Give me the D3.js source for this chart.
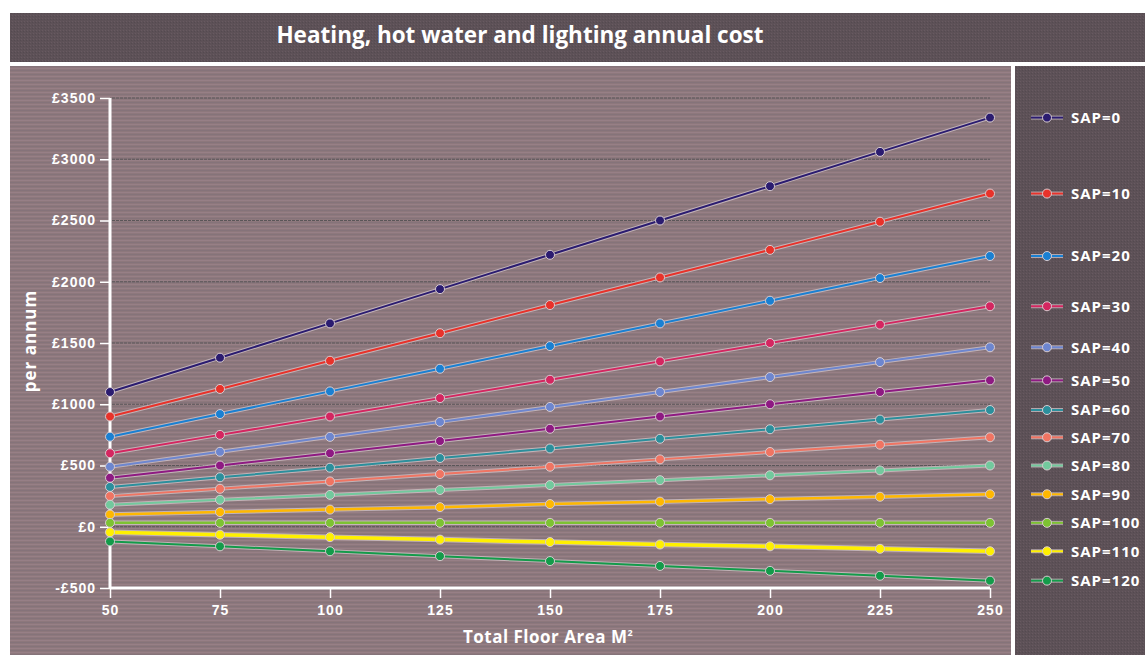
<!DOCTYPE html>
<meta charset="utf-8">
<style>
body { margin: 0; background: #fff; }
svg { display: block; font-family: "Open Sans", "Lato", sans-serif; }
.tick text { fill: #fff; font-weight: bold; font-size: 14px; letter-spacing: 1px; }
.domain { stroke: #fff; stroke-width: 3px; }
.tick line { stroke: #fff; stroke-width: 1.5px; }
</style>
<body>
<script src="https://d3js.org/d3.v7.min.js"></script>
<script>
// floor area (m2) and annual cost per SAP rating
var areas = [50, 75, 100, 125, 150, 175, 200, 225, 250];
var sapLabels = ["SAP=0", "SAP=10", "SAP=20", "SAP=30", "SAP=40", "SAP=50", "SAP=60",
                 "SAP=70", "SAP=80", "SAP=90", "SAP=100", "SAP=110", "SAP=120"];
var sap0   = [1100, 1380, 1660, 1940, 2220, 2500, 2780, 3060, 3340];
var sap10  = [900, 1125, 1355, 1580, 1810, 2035, 2260, 2490, 2720];
var sap20  = [735, 920, 1105, 1290, 1475, 1660, 1845, 2030, 2210];
var sap30  = [600, 750, 900, 1050, 1200, 1350, 1500, 1650, 1800];
var sap40  = [490, 612, 734, 856, 978, 1100, 1222, 1344, 1465];
var sap50  = [400, 500, 600, 700, 800, 900, 1000, 1100, 1195];
var sap60  = [325, 404, 482, 561, 639, 718, 796, 875, 953];
var sap70  = [250, 310, 370, 430, 490, 550, 610, 670, 730];
var sap80  = [180, 220, 260, 300, 340, 380, 420, 460, 500];
var sap90  = [100, 120, 140, 160, 185, 205, 225, 245, 265];
var sap100 = [32, 32, 32, 32, 32, 32, 32, 32, 32];
var sap110 = [-45, -65, -85, -105, -125, -145, -160, -180, -200];
var sap120 = [-120, -160, -200, -240, -280, -320, -360, -400, -440];
var yTicks = [-500, 0, 500, 1000, 1500, 2000, 2500, 3000, 3500];

var seriesValues = [sap0, sap10, sap20, sap30, sap40, sap50, sap60, sap70, sap80, sap90, sap100, sap110, sap120];
var colors = ["#2b1c70", "#e8322a", "#1a80d2", "#d42660", "#6d86cf", "#8e1a82", "#2b8f9c",
              "#f07462", "#72c99d", "#ffb800", "#7dc232", "#fff000", "#139b4a"];
var widths = [2, 2, 2, 2, 2, 2, 2, 2, 2, 2.5, 2.5, 3.5, 2];

var W = 1145, H = 655;
var svg = d3.select("body").append("svg").attr("width", W).attr("height", H);

// background textures
var defs = svg.append("defs");
var p1 = defs.append("pattern").attr("id", "plotbg").attr("width", 4).attr("height", 4)
  .attr("patternUnits", "userSpaceOnUse");
p1.append("rect").attr("width", 4).attr("height", 4).attr("fill", "#8d787c");
p1.append("rect").attr("width", 4).attr("height", 1).attr("fill", "#977f86");
p1.append("rect").attr("y", 2).attr("width", 4).attr("height", 1).attr("fill", "#85737a");
var p2 = defs.append("pattern").attr("id", "darkbg").attr("width", 3).attr("height", 3)
  .attr("patternUnits", "userSpaceOnUse");
p2.append("rect").attr("width", 3).attr("height", 3).attr("fill", "#5d5157");
p2.append("rect").attr("width", 1).attr("height", 1).attr("fill", "#685a61");
p2.append("rect").attr("x", 2).attr("y", 1).attr("width", 1).attr("height", 1).attr("fill", "#544a50");

svg.append("rect").attr("x", 10).attr("y", 13).attr("width", W - 10).attr("height", 49).attr("fill", "url(#darkbg)");
svg.append("rect").attr("x", 10).attr("y", 66).attr("width", 1001).attr("height", H - 66).attr("fill", "url(#plotbg)");
svg.append("rect").attr("x", 1015).attr("y", 66).attr("width", W - 1015).attr("height", H - 66).attr("fill", "url(#darkbg)");

svg.append("text").attr("x", 520).attr("y", 43).attr("text-anchor", "middle")
  .attr("fill", "#fff").attr("font-weight", "bold").attr("font-size", 22.5)
  .text("Heating, hot water and lighting annual cost");

var x = d3.scaleLinear().domain([50, 250]).range([110, 990]);
var y = d3.scaleLinear().domain([-500, 3500]).range([588, 98]);

// grid lines
svg.append("g").selectAll("line").data(yTicks.slice(1)).join("line")
  .attr("x1", 112).attr("x2", 990)
  .attr("y1", function(d) { return y(d); }).attr("y2", function(d) { return y(d); })
  .attr("stroke", "#5a5658").attr("stroke-width", 1).attr("stroke-dasharray", "3,1");

svg.append("g").attr("transform", "translate(110,0)")
  .call(d3.axisLeft(y).tickValues(yTicks).tickSize(10).tickPadding(4)
    .tickFormat(function(d) { return (d < 0 ? "-£" : "£") + Math.abs(d); }))
  .call(function(g) { g.select(".domain").attr("d", "M0," + 98 + "V588"); });

svg.append("g").attr("transform", "translate(0,588)")
  .call(d3.axisBottom(x).tickValues(areas).tickSize(10).tickPadding(7))
  .call(function(g) { g.select(".domain").attr("d", "M110,0H990"); });

svg.append("text").attr("transform", "translate(36,341) rotate(-90)").attr("text-anchor", "middle")
  .attr("fill", "#fff").attr("font-weight", "bold").attr("font-size", 17)
  .attr("letter-spacing", 1).text("per annum");
svg.append("text").attr("x", 548).attr("y", 643).attr("text-anchor", "middle")
  .attr("fill", "#fff").attr("font-weight", "bold").attr("font-size", 17).attr("letter-spacing", 0.5)
  .text("Total Floor Area M").append("tspan").attr("dy", -7).attr("font-size", 9).text("2");

var line = d3.line().x(function(d, i) { return x(areas[i]); }).y(function(d) { return y(d); });

var series = svg.append("g").selectAll("g").data(seriesValues).join("g");
series.append("path").attr("d", line).attr("fill", "none")
  .attr("stroke", "#d8ccd0").attr("stroke-opacity", 0.7)
  .attr("stroke-width", function(d, i) { return widths[i] + 2; });
series.append("path").attr("d", line).attr("fill", "none")
  .attr("stroke", function(d, i) { return colors[i]; })
  .attr("stroke-width", function(d, i) { return widths[i]; });
series.each(function(vals, i) {
  d3.select(this).selectAll("circle").data(vals).join("circle")
    .attr("cx", function(d, j) { return x(areas[j]); })
    .attr("cy", function(d) { return y(d); })
    .attr("r", 4.5).attr("fill", colors[i])
    .attr("stroke", "#d8ccd0").attr("stroke-width", 1);
});

// white separator between plot and legend
svg.append("rect").attr("x", 1011).attr("y", 66).attr("width", 3).attr("height", H - 66).attr("fill", "#fff");

// legend, each entry level with the series' last point
var legend = svg.append("g").selectAll("g").data(seriesValues).join("g")
  .attr("transform", function(d) { return "translate(0," + y(d[d.length - 1]) + ")"; });
legend.append("line").attr("x1", 1031).attr("x2", 1063).attr("stroke", "#d8ccd0")
  .attr("stroke-opacity", 0.7).attr("stroke-width", 4);
legend.append("line").attr("x1", 1031).attr("x2", 1063)
  .attr("stroke", function(d, i) { return colors[i]; }).attr("stroke-width", 2);
legend.append("circle").attr("cx", 1047).attr("r", 4.5)
  .attr("fill", function(d, i) { return colors[i]; }).attr("stroke", "#d8ccd0");
legend.append("text").attr("x", 1071).attr("dy", "0.35em").attr("fill", "#fff")
  .attr("font-weight", "bold").attr("font-size", 15).attr("letter-spacing", 1)
  .text(function(d, i) { return sapLabels[i]; });
</script>
</body>
